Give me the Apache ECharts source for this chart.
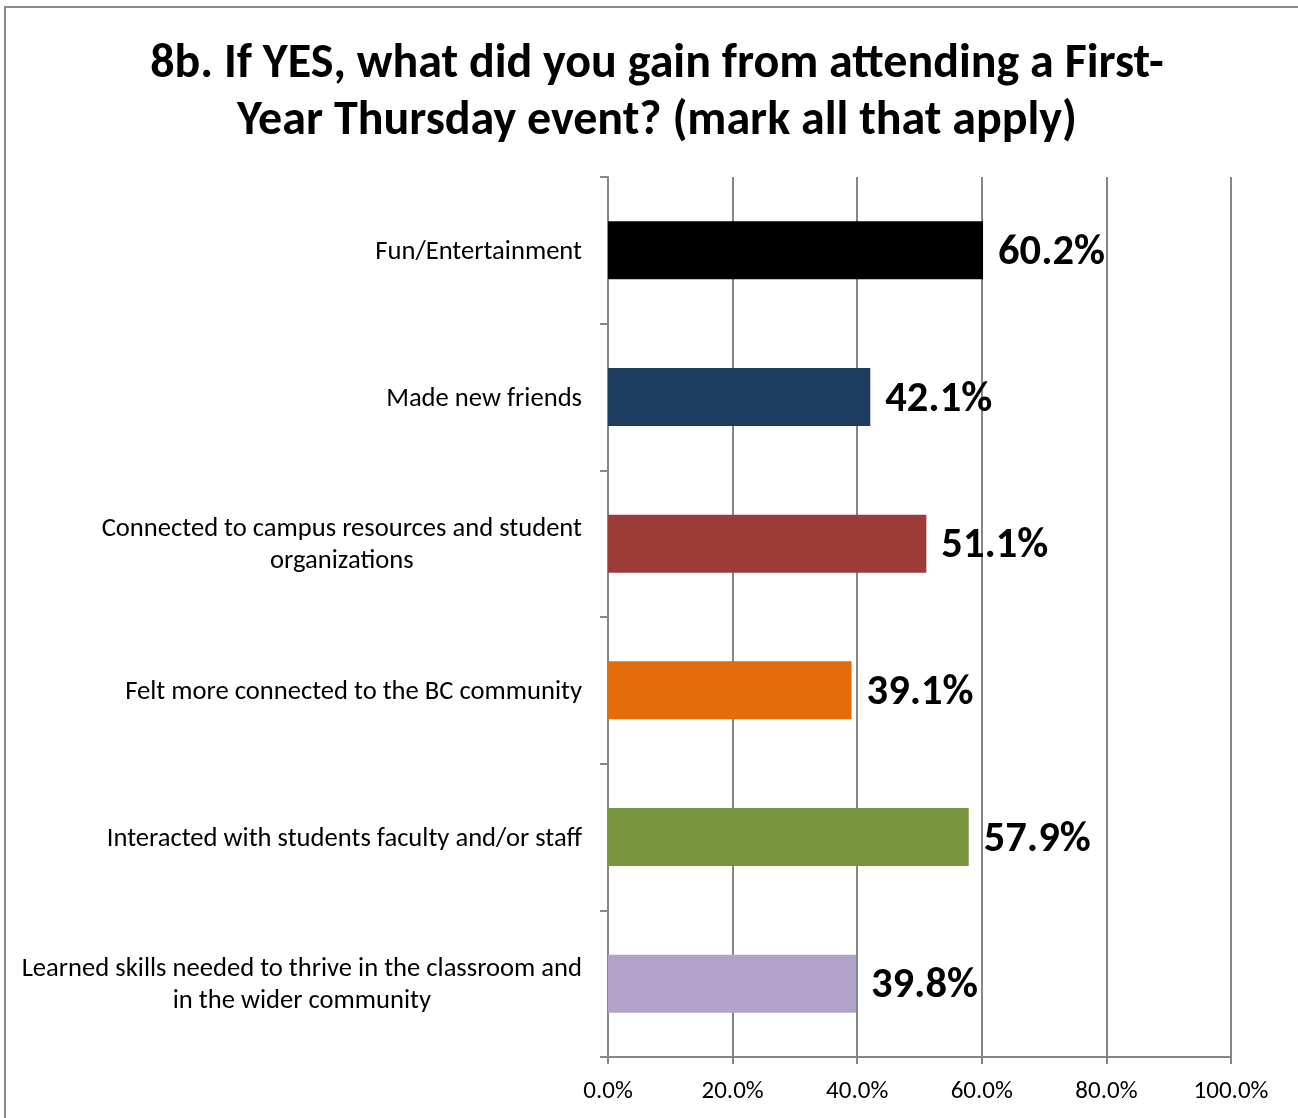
<!DOCTYPE html>
<html><head><meta charset="utf-8">
<script src="https://cdn.jsdelivr.net/npm/echarts@6/dist/echarts.min.js"></script>
<style>html,body{margin:0;padding:0;background:#fff}#c{width:1298px;height:1118px}
#frame{position:absolute;left:4px;top:6px;width:1300px;height:1120px;border:2px solid #8c8c8c;box-sizing:border-box;pointer-events:none}</style>
</head><body><div id="c"></div><div id="frame"></div>
<script>
const titleText = '8b. If YES, what did you gain from attending a First-\nYear Thursday event? (mark all that apply)';
const categories = [
  'Fun/Entertainment',
  'Made new friends',
  'Connected to campus resources and student\norganizations',
  'Felt more connected to the BC community',
  'Interacted with students faculty and/or staff',
  'Learned skills needed to thrive in the classroom and\nin the wider community'
];
const values = [60.2, 42.1, 51.1, 39.1, 57.9, 39.8];
const colors = ['#000000', '#1d3a5f', '#9d3b39', '#e36d0b', '#77943c', '#b2a2c7'];
const xTicks = [0, 20, 40, 60, 80, 100];

const FONT = "Carlito, 'Open Sans', sans-serif";
const chart = echarts.init(document.getElementById('c'));
chart.setOption({
  animation: false,
  title: {
    text: titleText, left: 652, top: 31, textAlign: 'center',
    textStyle: { fontFamily: FONT, fontSize: 48, fontWeight: 'bold', color: '#000', lineHeight: 57 }
  },
  grid: { left: 608, right: 67, top: 177, bottom: 61 },
  xAxis: {
    type: 'value', min: xTicks[0], max: xTicks[xTicks.length - 1], interval: 20,
    axisLine: { show: true, lineStyle: { color: '#868686', width: 2 } },
    axisTick: { show: true, length: 7, lineStyle: { color: '#868686', width: 2 } },
    splitLine: { show: true, lineStyle: { color: '#868686', width: 2 } },
    axisLabel: { formatter: v => v.toFixed(1) + '%', fontFamily: FONT, fontSize: 25, color: '#000', margin: 22 }
  },
  yAxis: {
    type: 'category', inverse: true, data: categories,
    axisLine: { show: true, lineStyle: { color: '#868686', width: 2 } },
    axisTick: { show: true, length: 8, lineStyle: { color: '#868686', width: 2 } },
    axisLabel: {
      fontFamily: FONT, fontSize: 26.6, color: '#000', margin: 26, lineHeight: 32,
      formatter: v => v.split('\n').map(s => '{c|' + s + '}').join('\n'),
      rich: { c: { align: 'center', fontFamily: FONT, fontSize: 26.6, lineHeight: 32, color: '#000', padding: [4, 0, 0, 0] } }
    }
  },
  series: [{
    type: 'bar', barWidth: 58,
    data: values.map((v, i) => ({ value: v, itemStyle: { color: colors[i] } })),
    label: {
      show: true, position: 'right', distance: 15, offset: [0, 3],
      formatter: p => p.value.toFixed(1) + '%',
      fontFamily: FONT, fontSize: 42.5, fontWeight: 'bold', color: '#000'
    }
  }]
});
</script></body></html>
